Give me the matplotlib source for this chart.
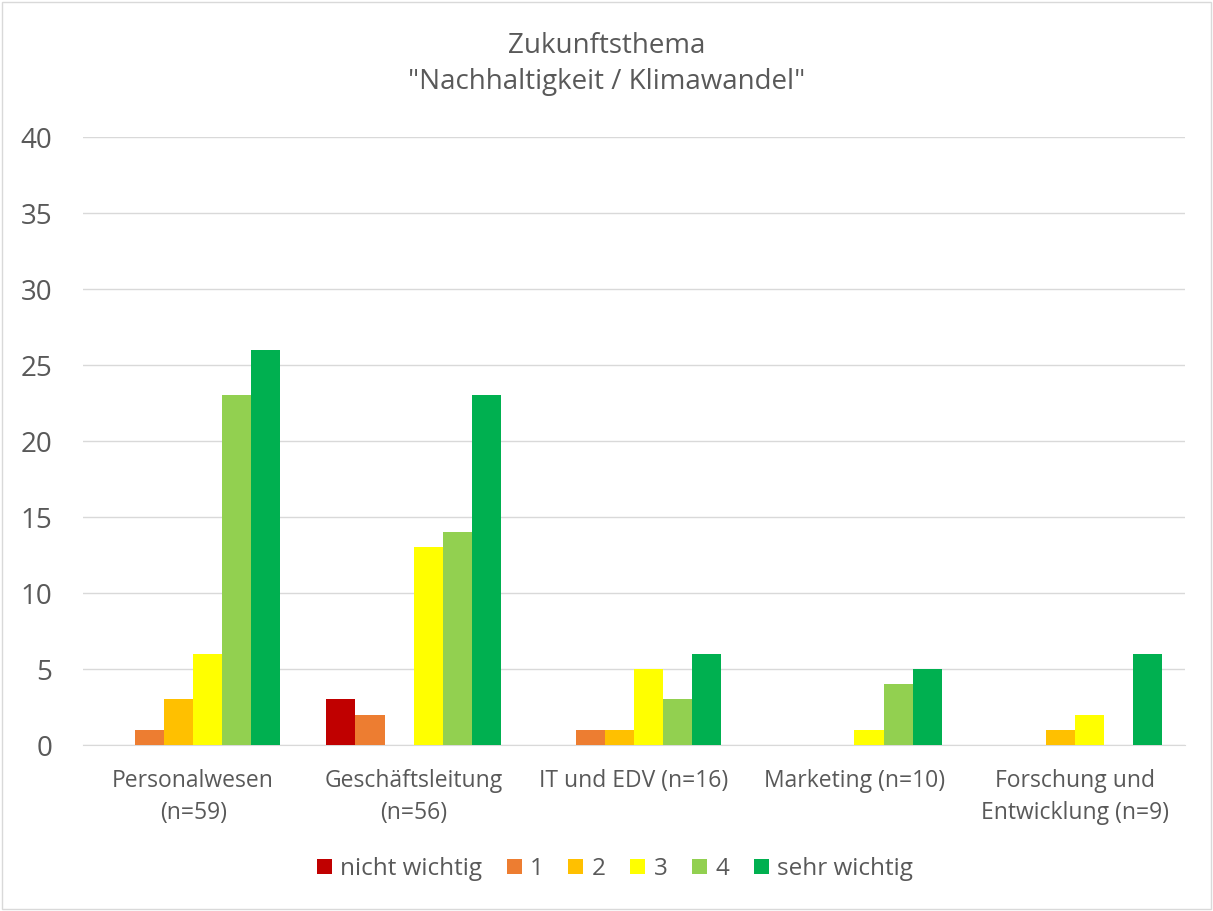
import numpy as np
import matplotlib.pyplot as plt
from matplotlib.patches import Rectangle

# ── Daten ────────────────────────────────────────────────────────────────
categories = ["Personalwesen\n(n=59)", "Geschäftsleitung\n(n=56)", "IT und EDV (n=16)",
              "Marketing (n=10)", "Forschung und\nEntwicklung (n=9)"]
series_names = ["nicht wichtig", "1", "2", "3", "4", "sehr wichtig"]
nicht_wichtig = [0, 3, 0, 0, 0]
s1 = [1, 2, 1, 0, 0]
s2 = [3, 0, 1, 0, 1]
s3 = [6, 13, 5, 1, 2]
s4 = [23, 14, 3, 4, 0]
sehr_wichtig = [26, 23, 6, 5, 6]
colors = ["#C00000", "#ED7D31", "#FFC000", "#FFFF00", "#92D050", "#00B050"]

values = [nicht_wichtig, s1, s2, s3, s4, sehr_wichtig]

plt.rcParams["font.family"] = ["Open Sans", "DejaVu Sans"]

fig = plt.figure(figsize=(12.13, 9.11), dpi=100)
ax = fig.add_axes([0.0684, 0.1822, 0.9086, 0.6674])

x = np.arange(len(categories))
bw = 0.132
for i, (name, vals, c) in enumerate(zip(series_names, values, colors)):
    ax.bar(x + (i - 2.5) * bw, vals, width=bw, color=c, label=name, zorder=3)

ax.set_xlim(-0.5, len(categories) - 0.5)
ax.set_ylim(0, 40)
ax.set_yticks(range(0, 41, 5))
ax.tick_params(axis="y", labelsize=20, colors="#595959", length=0, pad=22)
ax.tick_params(axis="x", labelsize=16.5, colors="#595959", length=0, pad=17)
ax.set_xticks(x)
ax.set_xticklabels(categories, linespacing=1.45)
ax.grid(axis="y", color="#D9D9D9", linewidth=1, zorder=0)
for s in ["top", "right", "left"]:
    ax.spines[s].set_visible(False)
ax.spines["bottom"].set_color("#D9D9D9")

fig.suptitle('Zukunftsthema\n"Nachhaltigkeit / Klimawandel"', y=0.965,
             fontsize=20, color="#595959", linespacing=1.4)

ax.legend(loc="center", bbox_to_anchor=(0.507, 1 - 869 / 911), bbox_transform=fig.transFigure,
          ncol=6, frameon=False, fontsize=17.5, labelcolor="#595959",
          handlelength=0.62, handleheight=0.62, handletextpad=0.35, columnspacing=1.0)

fig.patches.append(Rectangle((0.002, 0.002), 0.996, 0.996, transform=fig.transFigure,
                             fill=False, edgecolor="#D9D9D9", linewidth=1))

fig.savefig("out.png", dpi=100, facecolor="white")
